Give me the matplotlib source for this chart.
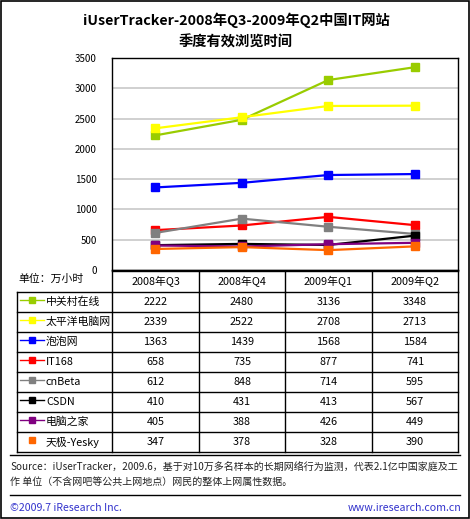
import numpy as np
import matplotlib.pyplot as plt
from matplotlib.lines import Line2D

plt.rcParams['font.family'] = ['Noto Sans CJK SC', 'DejaVu Sans']

quarters = ['2008年Q3', '2008年Q4', '2009年Q1', '2009年Q2']
sites = ['中关村在线', '太平洋电脑网', '泡泡网', 'IT168', 'cnBeta', 'CSDN', '电脑之家', '天极-Yesky']
zol = [2222, 2480, 3136, 3348]
pconline = [2339, 2522, 2708, 2713]
pcpop = [1363, 1439, 1568, 1584]
it168 = [658, 735, 877, 741]
cnbeta = [612, 848, 714, 595]
csdn = [410, 431, 413, 567]
pchome = [405, 388, 426, 449]
yesky = [347, 378, 328, 390]
series = [zol, pconline, pcpop, it168, cnbeta, csdn, pchome, yesky]
colors = ['#99CC00', '#FFFF00', '#0000FF', '#FF0000', '#808080', '#000000', '#800080', '#FF6600']

W, H = 470, 519
fig = plt.figure(figsize=(W/100, H/100), dpi=100)

# pixel coords of plot area
left, right, top, bottom = 112, 458, 58, 270
ax = fig.add_axes([left/W, 1-bottom/H, (right-left)/W, (bottom-top)/H])
x = np.arange(len(quarters))
for vals, c in zip(series, colors):
    ax.plot(x, vals, color=c, lw=1.6, marker='s', ms=6, mec=c, mfc=c)
ax.set_xlim(-0.5, len(quarters)-0.5)
ax.set_ylim(0, 3500)
ax.set_yticks(np.arange(0, 3501, 500))
ax.set_xticks([])
ax.tick_params(axis='y', length=0, pad=11, labelsize=7)
ax.yaxis.grid(True, color='#C8C8C8', lw=1.2)
ax.set_axisbelow(True)
for s in ax.spines.values():
    s.set_color('black')
    s.set_linewidth(1)

# overlay in pixel coordinates for table and text
ov = fig.add_axes([0, 0, 1, 1], zorder=-1)
ov.set_xlim(0, W)
ov.set_ylim(H, 0)
ov.axis('off')

ov.add_patch(plt.Rectangle((0.5, 0.5), W-2, H-2, fill=False, ec='black', lw=1.2))

ov.text(236, 20, 'iUserTracker-2008年Q3-2009年Q2中国IT网站', ha='center', va='center',
        fontsize=10.3, fontweight='bold')
ov.text(236, 42, '季度有效浏览时间', ha='center', va='center', fontsize=10.3, fontweight='bold')

# table
col_x = [112, 199, 285, 372, 458]
row0, rh = 292, 20
tlc = 'black'
# header
ov.plot([112, 112], [270, row0], color=tlc, lw=1)
ov.plot([458, 458], [270, row0], color=tlc, lw=1)
ov.plot([112, 458], [271, 271], color=tlc, lw=1)
for cx in col_x[1:-1]:
    ov.plot([cx, cx], [271, row0], color=tlc, lw=1)
for i, q in enumerate(quarters):
    ov.text((col_x[i]+col_x[i+1])/2, 282, q, ha='center', va='center', fontsize=7.8)
ov.text(18, 279, '单位：万小时', ha='left', va='center', fontsize=7.8)

n = len(sites)
for r in range(n+1):
    ov.plot([17, 458], [row0+r*rh, row0+r*rh], color=tlc, lw=1)
for cx in [17] + col_x:
    ov.plot([cx, cx], [row0, row0+n*rh], color=tlc, lw=1)

for r, (name, vals, c) in enumerate(zip(sites, series, colors)):
    yc = row0 + r*rh + rh/2
    if r < n-1:
        ov.add_line(Line2D([20, 44], [yc-2, yc-2], color=c, lw=1))
    ov.add_line(Line2D([32], [yc-2], marker='s', ms=4.5, color=c, mec=c))
    ov.text(46, yc, name, ha='left', va='center', fontsize=7.8)
    for i, v in enumerate(vals):
        ov.text((col_x[i]+col_x[i+1])/2, yc, str(v), ha='center', va='center', fontsize=7.8)

ov.plot([10, 460], [455, 455], color='black', lw=1)
ov.plot([10, 460], [495, 495], color='black', lw=1)
ov.text(10, 468, 'Source：iUserTracker，2009.6，基于对10万多名样本的长期网络行为监测，代表2.1亿中国家庭及工',
        ha='left', va='center', fontsize=7.2, color='#222222')
ov.text(10, 482, '作 单位（不含网吧等公共上网地点）网民的整体上网属性数据。',
        ha='left', va='center', fontsize=7.2, color='#222222')
ov.text(10, 508, '©2009.7 iResearch Inc.', ha='left', va='center', fontsize=7.6, color='#3333CC')
ov.text(461, 508, 'www.iresearch.com.cn', ha='right', va='center', fontsize=7.7, color='#3333CC')

fig.savefig('out.png', dpi=100)
